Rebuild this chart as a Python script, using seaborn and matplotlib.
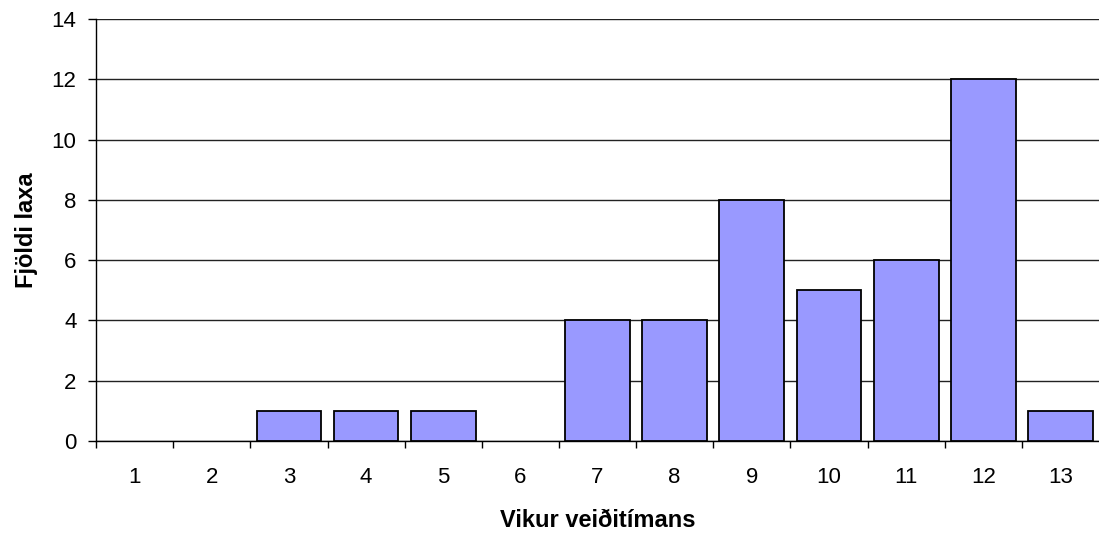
import numpy as np
import pandas as pd
import seaborn as sns
import matplotlib.pyplot as plt
from matplotlib.ticker import FixedLocator

weeks = [str(i) for i in range(1, 14)]
counts = [0, 0, 1, 1, 1, 0, 4, 4, 8, 5, 6, 12, 1]

df = pd.DataFrame({'week': weeks, 'count': counts})

sns.set_style('white')
plt.rcParams['font.family'] = ['Liberation Sans', 'DejaVu Sans']
plt.rcParams['text.color'] = 'black'
plt.rcParams['xtick.color'] = 'black'
plt.rcParams['ytick.color'] = 'black'
plt.rcParams['axes.labelcolor'] = 'black'

fig = plt.figure(figsize=(10.99, 5.35), dpi=100)
ax = fig.add_axes([0.0874, 0.1757, 0.9126, 0.7888])

sns.barplot(data=df, x='week', y='count', color='#9999FF', saturation=1,
            width=0.84, edgecolor='black', linewidth=1.3, ax=ax, zorder=3)

# empty weeks show no outline
for p in ax.patches:
    if p.get_height() == 0:
        p.set_visible(False)

ax.set_xlim(-0.5, 12.5)
ax.set_ylim(0, 14)
ax.set_yticks(range(0, 15, 2))
ax.yaxis.grid(True, color='#222222', linewidth=1)
ax.set_axisbelow(True)

# labels centred, tick marks on the category boundaries
ax.tick_params(axis='x', which='major', length=0, pad=19, labelsize=16)
ax.xaxis.set_minor_locator(FixedLocator(np.arange(-0.5, 12, 1.0)))
ax.tick_params(axis='x', which='minor', length=5, width=1, color='black', direction='out', bottom=True)
ax.tick_params(axis='y', length=6, width=1, color='black', direction='out', left=True, labelsize=16, pad=8)

for s in ['top', 'right']:
    ax.spines[s].set_visible(False)
for s in ['left', 'bottom']:
    ax.spines[s].set_color('black')
    ax.spines[s].set_linewidth(1)

ax.set_xlabel('Vikur veiðitímans', fontsize=17, fontweight='bold', labelpad=15)
ax.set_ylabel('Fjöldi laxa', fontsize=17, fontweight='bold', labelpad=10)

plt.savefig('out.png', dpi=100)
